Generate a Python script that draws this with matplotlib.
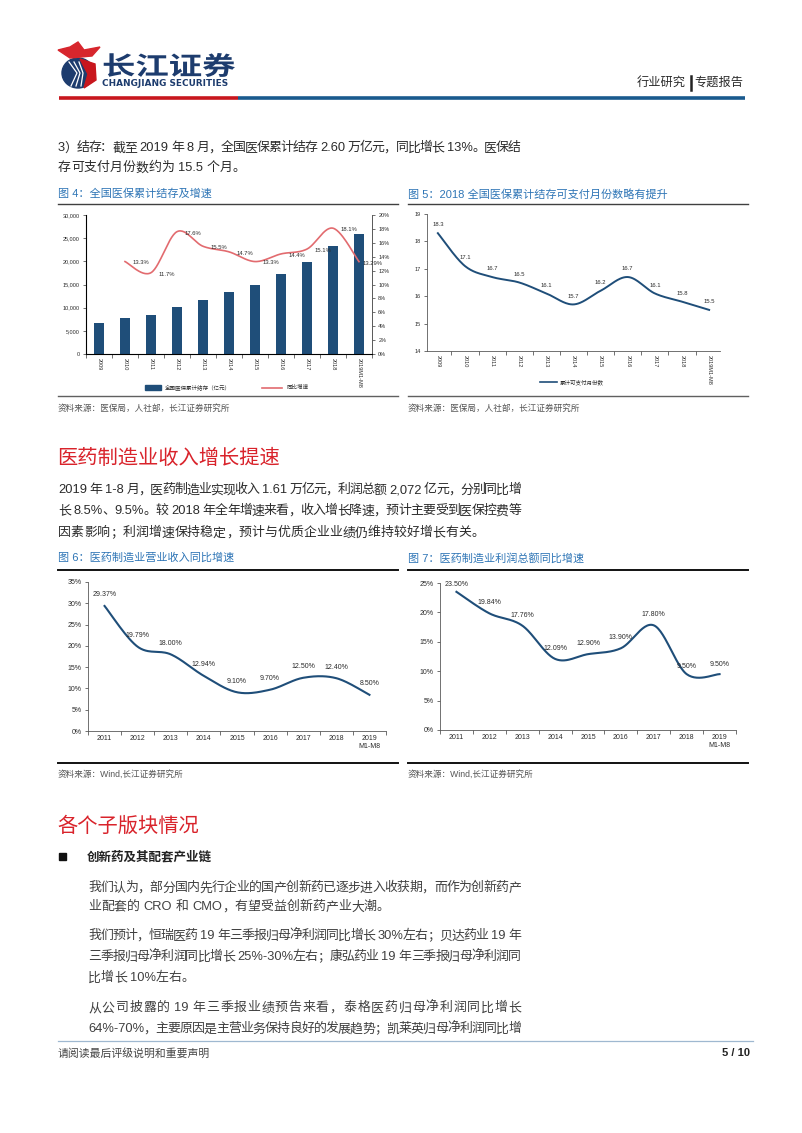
import re
import numpy as np
import matplotlib
matplotlib.use("Agg")
import matplotlib.pyplot as plt
from matplotlib.patches import Rectangle, Ellipse, Polygon, PathPatch
from matplotlib.ticker import FuncFormatter
from matplotlib.textpath import TextPath
from matplotlib.font_manager import FontProperties, findfont
from matplotlib.ft2font import FT2Font
from matplotlib.transforms import Affine2D

plt.rcParams['font.family'] = ['Liberation Sans', 'Noto Sans CJK SC', 'DejaVu Sans']

# ---- data ----
years4 = ['2009', '2010', '2011', '2012', '2013', '2014', '2015', '2016', '2017', '2018', '2019M1-M8']
balance = [6600, 7700, 8500, 10100, 11600, 13300, 15000, 17200, 19800, 23400, 26000]
growth_years = years4[1:]
growth = [13.3, 11.7, 17.6, 15.5, 14.7, 13.3, 14.4, 15.1, 18.1, 13.29]
growth_labels = ['13.3%', '11.7%', '17.6%', '15.5%', '14.7%', '13.3%', '14.4%', '15.1%', '18.1%', '13.29%']

months = [18.3, 17.1, 16.7, 16.5, 16.1, 15.7, 16.2, 16.7, 16.1, 15.8, 15.5]

years6 = ['2011', '2012', '2013', '2014', '2015', '2016', '2017', '2018', '2019\nM1-M8']
revenue_growth = [29.37, 19.79, 18.00, 12.94, 9.10, 9.70, 12.50, 12.40, 8.50]
profit_growth = [23.50, 19.84, 17.76, 12.09, 12.90, 13.90, 17.80, 9.50, 9.50]

W, H = 802, 1133
NAVY = '#1f4e79'
BLUE_T = '#2e75b6'
RED_H = '#d9232b'
TXT = '#2b2b2b'

fig = plt.figure(figsize=(W / 100, H / 100), dpi=100)
bg = fig.add_axes([0, 0, 1, 1])
bg.set_xlim(0, W)
bg.set_ylim(H, 0)
bg.axis('off')


def px_axes(x0, y0, x1, y1):
    return fig.add_axes([x0 / W, 1 - y1 / H, (x1 - x0) / W, (y1 - y0) / H])


def smooth(xs, ys, n=30):
    # bezier smoothing like office charts
    xs = np.asarray(xs, float)
    ys = np.asarray(ys, float)
    px = np.concatenate([[xs[0]], xs, [xs[-1]]])
    py = np.concatenate([[ys[0]], ys, [ys[-1]]])
    t = np.linspace(0, 1, n)[:, None]
    out = []
    for k in range(len(xs) - 1):
        p0 = np.array([px[k], py[k]])
        p1 = np.array([px[k + 1], py[k + 1]])
        p2 = np.array([px[k + 2], py[k + 2]])
        p3 = np.array([px[k + 3], py[k + 3]])
        c1 = p1 + (p2 - p0) / 6
        c2 = p2 - (p3 - p1) / 6
        seg = ((1 - t) ** 3) * p1 + 3 * ((1 - t) ** 2) * t * c1 + 3 * (1 - t) * t ** 2 * c2 + t ** 3 * p2
        out.append(seg)
    out = np.vstack(out)
    return out[:, 0], out[:, 1]


latin_font = FT2Font(findfont(FontProperties(family='Liberation Sans')))
cjk_font = FT2Font(findfont(FontProperties(family='Noto Sans CJK SC')))


def advance(s, size):
    # advance width in pixels (dpi 100)
    total = 0.0
    for c in s:
        f = latin_font if latin_font.get_char_index(ord(c)) else cjk_font
        f.set_size(size, 100)
        total += f.load_char(ord(c)).linearHoriAdvance / 65536
    return total


def line_text(x, y, s, x1=None, size=9.3, color=TXT, **kw):
    tokens = re.findall(r'[\x00-\x7f]+|.', s)
    widths = [advance(tk, size) for tk in tokens]
    gap = 0.0
    if x1 is not None:
        gap = (x1 - x - sum(widths)) / max(len(tokens) - 1, 1)
    base = y + 0.34 * size * 100 / 72
    cx = x
    for tk, w in zip(tokens, widths):
        lead = advance(tk[:len(tk) - len(tk.lstrip(' '))], size)
        bg.text(cx + lead, base, tk.strip(' '), fontsize=size, color=color,
                va='baseline', ha='left', **kw)
        cx += w + gap


# ---- header ----
bg.plot([59, 238], [98, 98], color='#c8161d', lw=2.6, solid_capstyle='butt')
bg.plot([238, 745], [98, 98], color='#1a5a8e', lw=2.6, solid_capstyle='butt')
bg.add_patch(Ellipse((78, 73), 32, 30, color='#1d3c6e'))
bg.add_patch(Polygon([[80, 59], [95, 64], [96, 80], [84, 88], [88, 74]], closed=True, color='#c8161d'))
for dx in (-5, 0, 5):
    bg.plot([74 + dx, 80 + dx * 0.6, 76 + dx], [62, 73, 86], color='white', lw=0.9)
bg.add_patch(Polygon([[58, 50], [70, 47], [78, 42], [84, 50], [100, 47], [92, 56], [70, 58]],
                     closed=True, color='#d7262d'))
logo_path = TextPath((0, 0), '长江证券', size=20, prop=FontProperties(family='Noto Sans CJK SC', weight='heavy'))
v = logo_path.vertices
lx0, lx1, ly0, ly1 = v[:, 0].min(), v[:, 0].max(), v[:, 1].min(), v[:, 1].max()
tr = Affine2D().translate(-lx0, -ly1).scale(133 / (lx1 - lx0), -24 / (ly1 - ly0)).translate(102, 53)
bg.add_patch(PathPatch(tr.transform_path(logo_path), color='#1d3c6e', lw=0))
bg.text(102, 83.5, 'CHANGJIANG SECURITIES', fontsize=6.4, fontweight='bold', color='#1d3c6e',
        ha='left', va='center', family=['DejaVu Sans'])
bg.text(743, 83, '专题报告', fontsize=8.8, color=TXT, ha='right', va='center')
bg.text(686, 83, '行业研究', fontsize=8.8, color=TXT, ha='right', va='center')
bg.plot([691, 691], [76, 90], color='#222222', lw=1.8)

# ---- section 1 text ----
line_text(58, 147, '3）结存：截至 2019 年 8 月，全国医保累计结存 2.60 万亿元，同比增长 13%。医保结', 521)
line_text(58, 167, '存可支付月份数约为 15.5 个月。')

bg.text(58, 194, '图 4：全国医保累计结存及增速', fontsize=8, color=BLUE_T, va='center')
bg.text(408, 194, '图 5：2018 全国医保累计结存可支付月份数略有提升', fontsize=8, color=BLUE_T, va='center')
for x0, x1 in ((58, 398), (408, 748)):
    bg.plot([x0, x1], [204, 204], color='#404040', lw=1.0)
    bg.plot([x0, x1], [396, 396], color='#606060', lw=1.0)
    bg.text(x0, 408, '资料来源：医保局，人社部，长江证券研究所', fontsize=6.2, color='#555555', va='center')


def style_cat_axis(ax, n, labels, size, rotation=0):
    ax.set_xlim(-0.5, n - 0.5)
    ax.set_xticks(range(n))
    ax.set_xticklabels(labels, fontsize=size, rotation=rotation, color=TXT,
                       va='top', ha='center', linespacing=1.1)
    ax.set_xticks(np.arange(-0.5, n, 1.0), minor=True)
    ax.tick_params(axis='x', which='major', length=0, pad=3)
    ax.tick_params(axis='x', which='minor', length=3, width=0.6, color='#595959')
    ax.tick_params(axis='y', length=2.5, width=0.6, color='#595959', labelsize=size, labelcolor=TXT, pad=2)
    ax.spines['top'].set_visible(False)
    for sp in ('left', 'bottom', 'right'):
        ax.spines[sp].set_color('#595959')
        ax.spines[sp].set_linewidth(0.6)
    ax.set_facecolor('none')


# ---- fig 4 ----
ax4 = px_axes(86, 215, 372, 354)
x4 = np.arange(len(years4))
ax4.bar(x4, balance, width=0.38, color=NAVY, zorder=2)
ax4.set_ylim(0, 30000)
ax4.set_yticks(range(0, 30001, 5000))
ax4.yaxis.set_major_formatter(FuncFormatter(lambda v, p: f'{int(v):,}'))
style_cat_axis(ax4, len(years4), years4, 4, rotation=270)
ax4b = ax4.twinx()
gx = x4[1:]
sx, sy = smooth(gx, growth)
ax4b.plot(sx, sy, color='#e26b6f', lw=1.2)
ax4b.set_ylim(0, 20)
ax4b.set_yticks(range(0, 21, 2))
ax4b.yaxis.set_major_formatter(FuncFormatter(lambda v, p: f'{int(v)}%'))
ax4b.tick_params(axis='y', length=2.5, width=0.6, color='#595959', labelsize=4, labelcolor=TXT, pad=2)
ax4b.spines['top'].set_visible(False)
ax4b.spines['right'].set_color('#595959')
ax4b.spines['right'].set_linewidth(0.6)
for i, (xv, v, lab) in enumerate(zip(gx, growth, growth_labels)):
    dx = 9.5 if i == len(gx) - 1 else 11.5
    ax4b.annotate(lab, (xv, v), xytext=(dx, -1), textcoords='offset points',
                  ha='center', va='center', fontsize=4.2, color=TXT)
bg.add_patch(Rectangle((145, 385), 16, 5, color=NAVY))
bg.text(165, 387.5, '全国医保累计结存（亿元）', fontsize=4, color=TXT, va='center')
bg.plot([262, 282], [387.5, 387.5], color='#e26b6f', lw=1.2)
bg.text(287, 387.5, '同比增速', fontsize=4, color=TXT, va='center')

# ---- fig 5 ----
ax5 = px_axes(427, 214, 720, 351)
x5 = np.arange(len(years4))
sx, sy = smooth(x5, months)
ax5.plot(sx, sy, color=NAVY, lw=1.4)
ax5.set_ylim(14, 19)
ax5.set_yticks(range(14, 20))
style_cat_axis(ax5, len(years4), years4, 4, rotation=270)
ax5.set_xlim(-0.4, 10.4)
ax5.spines['right'].set_visible(False)
for xv, v in zip(x5, months):
    ax5.annotate(f'{v:.1f}', (xv, v), xytext=(0, 6), textcoords='offset points',
                 ha='center', va='center', fontsize=4.2, color=TXT)
bg.plot([540, 557], [382, 382], color=NAVY, lw=1.2)
bg.text(560, 382, '累计可支付月份数', fontsize=4, color=TXT, va='center')

# ---- section 2 ----
bg.text(57, 458, '医药制造业收入增长提速', fontsize=14.6, color=RED_H, va='center')
line_text(58, 489, '2019 年 1-8 月，医药制造业实现收入 1.61 万亿元，利润总额 2,072 亿元，分别同比增', 521)
line_text(58, 510, '长 8.5%、9.5%。较 2018 年全年增速来看，收入增长降速，预计主要受到医保控费等', 521)
line_text(58, 532, '因素影响；利润增速保持稳定，预计与优质企业业绩仍维持较好增长有关。')

bg.text(58, 558, '图 6：医药制造业营业收入同比增速', fontsize=8, color=BLUE_T, va='center')
bg.text(408, 558, '图 7：医药制造业利润总额同比增速', fontsize=8, color=BLUE_T, va='center')
for x0, x1 in ((58, 398), (408, 748)):
    bg.plot([x0, x1], [570, 570], color='#111111', lw=1.4)
    bg.plot([x0, x1], [763, 763], color='#111111', lw=1.4)
    bg.text(x0, 774, '资料来源：Wind,长江证券研究所', fontsize=6.2, color='#555555', va='center')


def pct_line_chart(rect, values, ymax, offsets):
    ax = px_axes(*rect)
    xv = np.arange(len(values))
    sx, sy = smooth(xv, values)
    ax.plot(sx, sy, color=NAVY, lw=1.5)
    ax.set_ylim(0, ymax)
    ax.set_yticks(range(0, ymax + 1, 5))
    ax.yaxis.set_major_formatter(FuncFormatter(lambda v, p: f'{int(v)}%'))
    style_cat_axis(ax, len(values), years6, 5)
    ax.spines['right'].set_visible(False)
    for x, v, off in zip(xv, values, offsets):
        ax.annotate(f'{v:.2f}%', (x, v), xytext=(0, off), textcoords='offset points',
                    ha='center', va='center', fontsize=5, color=TXT)
    return ax


pct_line_chart((88, 582, 386, 731), revenue_growth, 35, [8] * 9)
pct_line_chart((440, 583, 736, 730), profit_growth, 25, [5.5, 7.8, 7.5, 7.5, 7.8, 7.6, 7.6, 5.8, 7.2])

# ---- section 3 ----
bg.text(57, 826, '各个子版块情况', fontsize=14.6, color=RED_H, va='center')
bg.add_patch(Rectangle((59, 853), 7, 7, color='#111111'))
bg.text(87, 857, '创新药及其配套产业链', fontsize=9, fontweight='bold', color='#222222', va='center')
G = '#404040'
line_text(88, 887, '我们认为，部分国内先行企业的国产创新药已逐步进入收获期，而作为创新药产', 521, color=G)
line_text(88, 906, '业配套的 CRO 和 CMO，有望受益创新药产业大潮。', color=G)
line_text(88, 935, '我们预计，恒瑞医药 19 年三季报归母净利润同比增长 30%左右；贝达药业 19 年', 521, color=G)
line_text(88, 956, '三季报归母净利润同比增长 25%-30%左右；康弘药业 19 年三季报归母净利润同', 521, color=G)
line_text(88, 977, '比增长 10%左右。', color=G)
line_text(88, 1007, '从公司披露的 19 年三季报业绩预告来看，泰格医药归母净利润同比增长', 521, color=G)
line_text(88, 1028, '64%-70%，主要原因是主营业务保持良好的发展趋势；凯莱英归母净利润同比增', 521, color=G)

# ---- footer ----
bg.plot([58, 753], [1041, 1041], color='#9fb8d0', lw=0.9)
bg.text(58, 1053, '请阅读最后评级说明和重要声明', fontsize=7.8, color='#444444', va='center')
bg.text(750, 1053, '5 / 10', fontsize=8, fontweight='bold', color='#222222', va='center', ha='right')

fig.savefig('out.png', dpi=100)
